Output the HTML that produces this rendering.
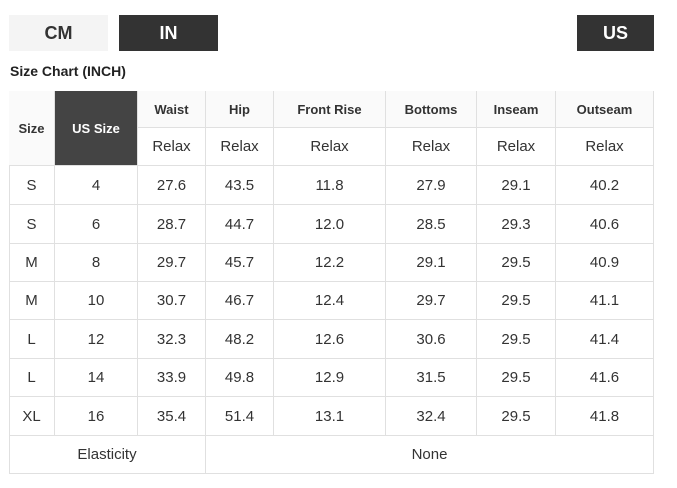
<!DOCTYPE html><html><head><style>
body{margin:0;width:677px;height:488px;background:#fff;font-family:"Liberation Sans",Arial,sans-serif;position:relative;overflow:hidden}
.b{position:absolute;display:flex;align-items:center;justify-content:center;font-weight:bold;font-size:18px}
.c{position:absolute;display:flex;align-items:center;justify-content:center;font-size:15px;color:#333;box-sizing:border-box;border-right:1px solid #e0e0e0;border-bottom:1px solid #e0e0e0}
.h{font-weight:bold;font-size:13px;color:#333}
</style></head><body>
<div class="b" style="left:9px;top:15px;width:99px;height:36px;background:#f4f4f4;color:#333">CM</div>
<div class="b" style="left:119px;top:15px;width:99px;height:36px;background:#333;color:#fff">IN</div>
<div class="b" style="left:577px;top:15px;width:77px;height:36px;background:#333;color:#fff">US</div>
<div style="position:absolute;left:10px;top:63px;font-weight:bold;font-size:14px;color:#222">Size Chart (INCH)</div>
<div style="position:absolute;left:9px;top:91px;width:645px;height:383px;border-left:1px solid #e0e0e0;border-top:1px solid #e0e0e0;box-sizing:border-box"></div>
<div id="t"></div>
<script>
var xs=[9,55,138,206,274,386,477,556,654];
var ys=[91,128,166,205,244,282,320,359,397,436,474];
var h='';
function cell(x0,x1,y0,y1,txt,cls,st){h+='<div class="c '+(cls||'')+'" style="left:'+x0+'px;top:'+y0+'px;width:'+(x1-x0)+'px;height:'+(y1-y0)+'px;'+(st||'')+'">'+txt+'</div>';}
cell(9,55,91,166,'Size','h','background:#fafafa');
cell(55,138,91,166,'US Size','h','background:#444;color:#fff');
var hd=['Waist','Hip','Front Rise','Bottoms','Inseam','Outseam'];
for(var i=0;i<6;i++){cell(xs[i+2],xs[i+3],91,128,hd[i],'h','background:#fafafa');cell(xs[i+2],xs[i+3],128,166,'Relax');}
var d=[['S',4,'27.6','43.5','11.8','27.9','29.1','40.2'],['S',6,'28.7','44.7','12.0','28.5','29.3','40.6'],['M',8,'29.7','45.7','12.2','29.1','29.5','40.9'],['M',10,'30.7','46.7','12.4','29.7','29.5','41.1'],['L',12,'32.3','48.2','12.6','30.6','29.5','41.4'],['L',14,'33.9','49.8','12.9','31.5','29.5','41.6'],['XL',16,'35.4','51.4','13.1','32.4','29.5','41.8']];
for(var r=0;r<7;r++)for(var c=0;c<8;c++)cell(xs[c],xs[c+1],ys[r+2],ys[r+3],d[r][c]);
cell(9,206,436,474,'Elasticity');cell(206,654,436,474,'None');
document.getElementById('t').innerHTML=h;
</script>
</body></html>
